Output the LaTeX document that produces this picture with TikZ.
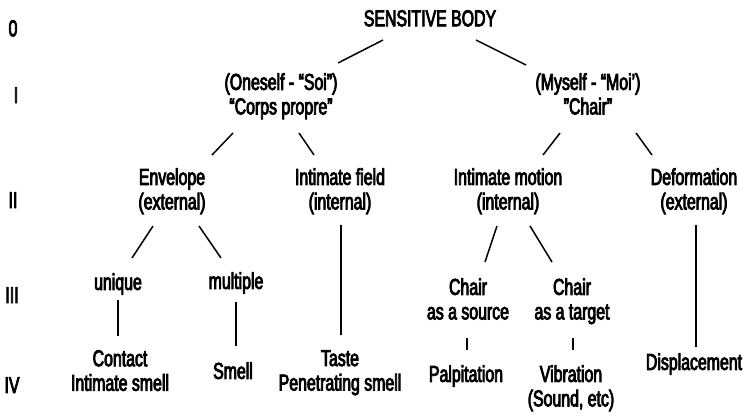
\documentclass[tikz,border=0pt]{standalone}
\usepackage{fontspec}
\setmainfont{Liberation Sans}[FakeStretch=0.69,FakeBold=3.5]
\begin{document}
\begin{tikzpicture}[x=1pt,y=-1pt,
  lbl/.style={anchor=north,inner sep=0pt,align=center,font=\fontsize{23}{24.5}\selectfont},
  lvl/.style={anchor=north,inner sep=0pt,font=\fontsize{23}{24.5}\selectfont},
  link/.style={line width=1.5pt}]
\useasboundingbox (0,0) rectangle (743,415);
% level labels
\node[lvl] (l0) at (13,20) {0};
\node[lvl] (l1) at (16,87) {I};
\node[lvl] (l2) at (13,192) {II};
\node[lvl] (l3) at (12,287) {III};
\node[lvl] (l4) at (12,377) {IV};
% tree nodes
\node[lbl] (root) at (430,10) {SENSITIVE BODY};
\node[lbl] (soi) at (281,73) {(Oneself - “Soi”)\\“Corps propre”};
\node[lbl] (moi) at (588,73) {(Myself - “Moi’)\\"Chair"};
\node[lbl] (env) at (172,168) {Envelope\\(external)};
\node[lbl] (field) at (340,168) {Intimate field\\(internal)};
\node[lbl] (motion) at (508,168) {Intimate motion\\(internal)};
\node[lbl] (deform) at (694,168) {Deformation\\(external)};
\node[lbl] (unique) at (118,273) {unique};
\node[lbl] (multiple) at (236,272) {multiple};
\node[lbl] (src) at (468,278) {Chair\\as a source};
\node[lbl] (tgt) at (572,278) {Chair\\as a target};
\node[lbl] (contact) at (120,350) {Contact\\Intimate smell};
\node[lbl] (smell) at (233,362) {Smell};
\node[lbl] (taste) at (340,350) {Taste\\Penetrating smell};
\node[lbl] (palp) at (466,365) {Palpitation};
\node[lbl] (vib) at (571,365) {Vibration\\(Sound, etc)};
\node[lbl] (displ) at (694,353) {Displacement};
% connectors
\draw[link] ([shift={(-47,30)}]root.north) -- ([shift={(57,-10)}]soi.north);
\draw[link] ([shift={(46,30)}]root.north) -- ([shift={(-62,-8)}]moi.north);
\draw[link] ([shift={(-48,60)}]soi.north) -- ([shift={(40,-13)}]env.north);
\draw[link] ([shift={(18,60)}]soi.north) -- ([shift={(-26,-13)}]field.north);
\draw[link] ([shift={(-28,60)}]moi.north) -- ([shift={(35,-13)}]motion.north);
\draw[link] ([shift={(48,60)}]moi.north) -- ([shift={(-42,-13)}]deform.north);
\draw[link] ([shift={(-19,58)}]env.north) -- ([shift={(14,-15)}]unique.north);
\draw[link] ([shift={(27,58)}]env.north) -- ([shift={(-15,-14)}]multiple.north);
\draw[link] ([shift={(1,57)}]field.north) -- ([shift={(1,-15)}]taste.north);
\draw[link] ([shift={(-11,58)}]motion.north) -- ([shift={(17,-16)}]src.north);
\draw[link] ([shift={(22,58)}]motion.north) -- ([shift={(-20,-16)}]tgt.north);
\draw[link] ([shift={(2,57)}]deform.north) -- ([shift={(2,-6)}]displ.north);
\draw[link] ([shift={(0,27)}]unique.north) -- ([shift={(-2,-14)}]contact.north);
\draw[link] ([shift={(0,30)}]multiple.north) -- ([shift={(3,-16)}]smell.north);
\draw[link] ([shift={(-1,60)}]src.north) -- ([shift={(1,-15)}]palp.north);
\draw[link] ([shift={(1,60)}]tgt.north) -- ([shift={(2,-15)}]vib.north);
\end{tikzpicture}
\end{document}
